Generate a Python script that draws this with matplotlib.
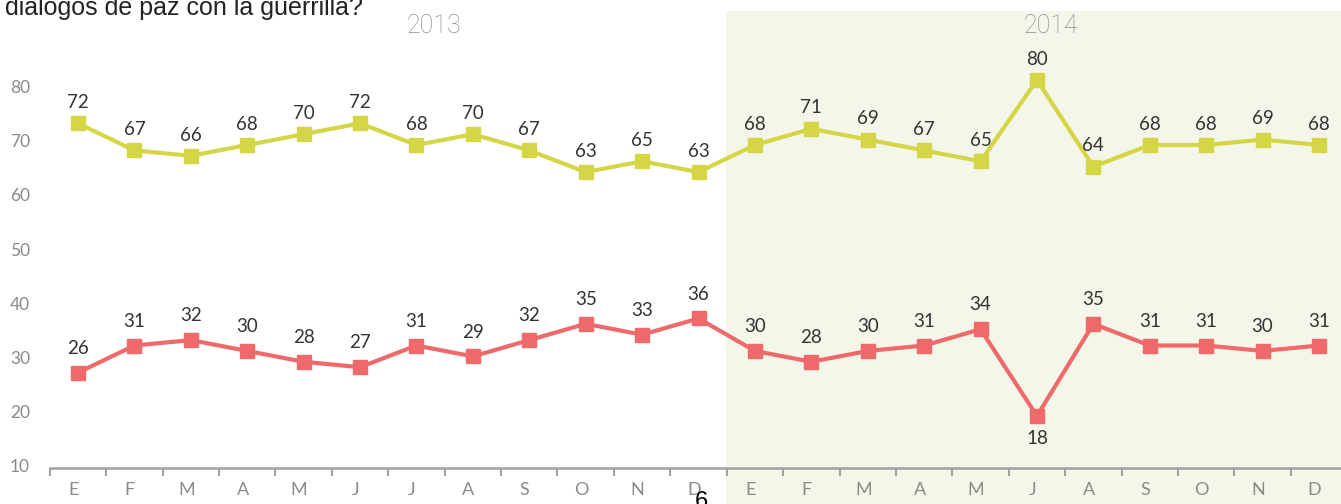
import matplotlib
matplotlib.use("Agg")
import matplotlib.pyplot as plt
from matplotlib.patches import Rectangle
import matplotlib.transforms as mtransforms

months = ["E", "F", "M", "A", "M", "J", "J", "A", "S", "O", "N", "D",
          "E", "F", "M", "A", "M", "J", "A", "S", "O", "N", "D"]
aprueba = [72, 67, 66, 68, 70, 72, 68, 70, 67, 63, 65, 63,
           68, 71, 69, 67, 65, 80, 64, 68, 68, 69, 68]
desaprueba = [26, 31, 32, 30, 28, 27, 31, 29, 32, 35, 33, 36,
              30, 28, 30, 31, 34, 18, 35, 31, 31, 30, 31]
y_ticks = [10, 20, 30, 40, 50, 60, 70, 80]
years = ["2013", "2014"]

W, H = 1341, 504
fig = plt.figure(figsize=(W / 100, H / 100), dpi=100)
fig.patch.set_facecolor("white")

# shaded 2014 region
fig.patches.append(Rectangle((726 / W, 0), (W - 726) / W, (H - 11) / H,
                             transform=fig.transFigure, facecolor="#F4F6EA",
                             edgecolor="none", zorder=-1))

ax = fig.add_axes([0, (H - 468) / H, 1, (468 - 11) / H])
ax.set_facecolor("none")
x = list(range(len(months)))
ax.set_xlim(-1.383, 22.39)
ax.set_ylim(8.40, 92.73)

green = "#D5D646"
red = "#EE6A6A"
ax.plot(x, aprueba, color=green, lw=3.0, marker="s", ms=10, mec=green, mfc=green, zorder=3)
ax.plot(x, desaprueba, color=red, lw=3.0, marker="s", ms=10, mec=red, mfc=red, zorder=3)

FAM = ["Lato", "DejaVu Sans"]
lab_font = dict(family=FAM, fontsize=13.5, color="#333333")
for i, v in enumerate(aprueba):
    ax.annotate(str(v), (i, v), xytext=(0, 15), textcoords="offset points",
                ha="center", va="center", **lab_font)
for i, v in enumerate(desaprueba):
    off = -16 if v < 20 else 17.5
    ax.annotate(str(v), (i, v), xytext=(0, off), textcoords="offset points",
                ha="center", va="center", **lab_font)

# spines
for s in ["top", "right", "left"]:
    ax.spines[s].set_visible(False)
ax.spines["bottom"].set_color("#A0A0A0")
ax.spines["bottom"].set_linewidth(1.8)
ax.spines["bottom"].set_bounds(-0.5, 23)

# x ticks
ax.set_xticks([i - 0.5 for i in x])
ax.set_xticklabels([])
ax.tick_params(axis="x", which="major", direction="out", length=6, width=1.5, color="#A0A0A0")
ax.set_xticks([i - 0.08 for i in x], minor=True)
ax.set_xticklabels(months, minor=True, family=FAM, fontsize=13, color="#8A8A8A")
ax.tick_params(axis="x", which="minor", length=0, pad=10)

# y ticks as text, top-aligned at the tick value
ax.set_yticks([])
trans = mtransforms.blended_transform_factory(fig.transFigure, ax.transData)
for t in y_ticks:
    ax.text(30 / W, t, str(t), transform=trans, ha="right", va="top",
            family=FAM, fontsize=12.5, color="#8A8A8A")

# year labels
YFAM = ["Roboto", "DejaVu Sans"]
fig.text(434 / W, 1 - 26 / H, years[0], ha="center", va="center",
         family=YFAM, fontweight="light", fontsize=18, color="#8E8E8E")
fig.text(1051 / W, 1 - 26 / H, years[1], ha="center", va="center",
         family=YFAM, fontweight="light", fontsize=18, color="#8E8E8E")

# cropped title line
fig.text(5 / W, 1 - 15 / H, "diálogos de paz con la guerrilla?", ha="left", va="baseline",
         family=["Liberation Sans", "DejaVu Sans"], fontsize=18, color="#222222")

# page number
fig.text(701 / W, 1 - 508 / H, "6", ha="center", va="baseline",
         family=["Liberation Sans", "DejaVu Sans"], fontsize=17, color="#000000")

fig.savefig("out.png", dpi=100)
